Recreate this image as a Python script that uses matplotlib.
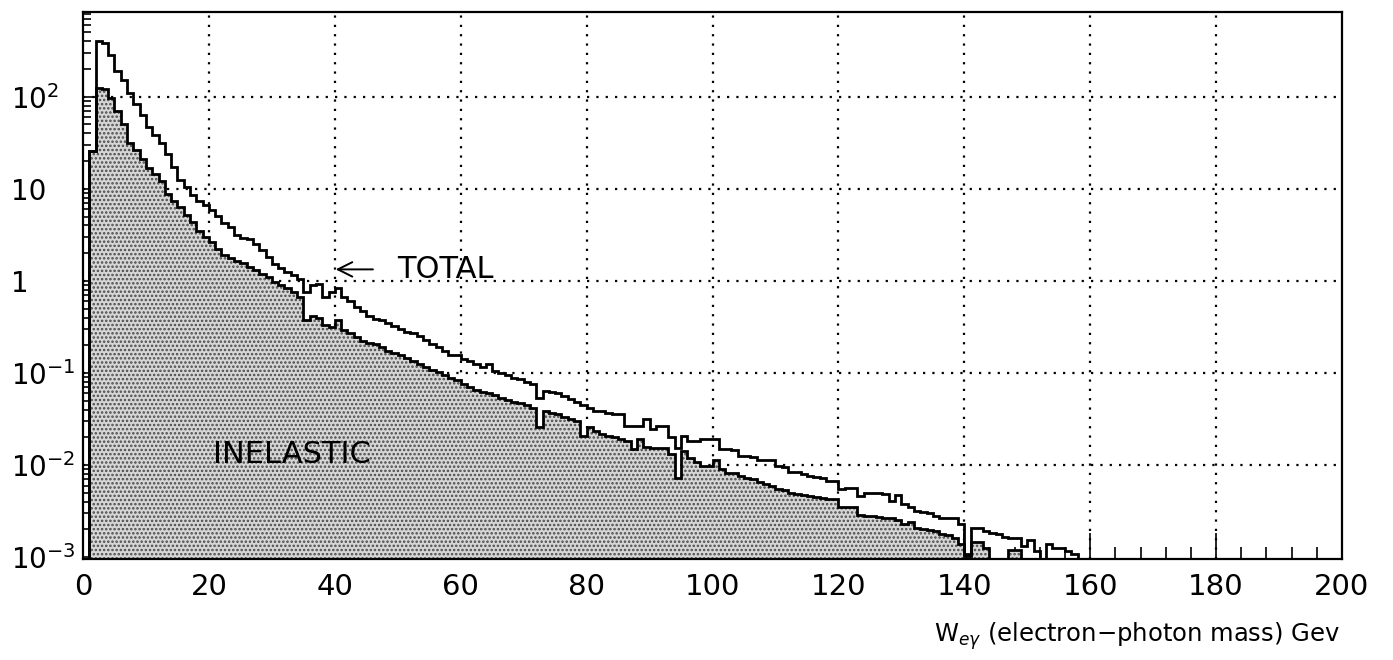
import numpy as np
import matplotlib
matplotlib.use("Agg")
import matplotlib.pyplot as plt
from matplotlib.ticker import LogLocator, MultipleLocator, NullFormatter, FixedLocator

# ---- data: 1 GeV bins from 0 to 160 (log10 of bin content)
bin_edges_gev = list(range(0, 161))
total_log10 = [
    -6, 1.41, 2.60, 2.58, 2.45, 2.28, 2.18, 2.04, 1.92, 1.80,
    1.67, 1.58, 1.50, 1.38, 1.24, 1.10, 1.02, 0.93, 0.87, 0.82,
    0.77, 0.70, 0.63, 0.58, 0.50, 0.47, 0.46, 0.40, 0.34, 0.26,
    0.18, 0.14, 0.10, 0.06, 0.02, -0.12, -0.05, -0.03, -0.18, -0.12,
    -0.08, -0.17, -0.22, -0.28, -0.33, -0.38, -0.41, -0.43, -0.46, -0.49,
    -0.52, -0.55, -0.57, -0.60, -0.64, -0.69, -0.72, -0.76, -0.80, -0.80,
    -0.85, -0.87, -0.90, -0.93, -0.90, -0.98, -1.00, -1.02, -1.05, -1.07,
    -1.10, -1.12, -1.27, -1.20, -1.21, -1.22, -1.25, -1.28, -1.32, -1.35,
    -1.38, -1.41, -1.41, -1.43, -1.44, -1.45, -1.58, -1.58, -1.58, -1.50,
    -1.61, -1.58, -1.58, -1.70, -1.81, -1.68, -1.74, -1.74, -1.72, -1.72,
    -1.72, -1.83, -1.83, -1.84, -1.90, -1.90, -1.91, -1.94, -1.94, -1.95,
    -2.01, -2.02, -2.07, -2.08, -2.10, -2.12, -2.13, -2.14, -2.17, -2.17,
    -2.26, -2.25, -2.25, -2.34, -2.30, -2.30, -2.30, -2.31, -2.39, -2.33,
    -2.42, -2.46, -2.50, -2.51, -2.52, -2.55, -2.57, -2.57, -2.57, -2.64,
    -2.97, -2.68, -2.68, -2.72, -2.74, -2.75, -2.78, -2.79, -2.79, -2.88,
    -2.81, -2.93, -6, -2.86, -2.90, -2.90, -2.93, -2.97, -6, -6,
]
inelastic_log10 = [
    -6, 1.41, 2.10, 2.08, 1.99, 1.85, 1.70, 1.50, 1.42, 1.32,
    1.23, 1.16, 1.08, 0.94, 0.87, 0.80, 0.72, 0.64, 0.54, 0.48,
    0.42, 0.35, 0.28, 0.25, 0.22, 0.19, 0.15, 0.12, 0.08, 0.04,
    -0.01, -0.05, -0.08, -0.12, -0.17, -0.42, -0.38, -0.40, -0.48, -0.50,
    -0.42, -0.53, -0.57, -0.61, -0.65, -0.67, -0.69, -0.72, -0.76, -0.78,
    -0.81, -0.84, -0.87, -0.90, -0.93, -0.97, -0.99, -1.02, -1.05, -1.08,
    -1.12, -1.15, -1.18, -1.21, -1.22, -1.24, -1.27, -1.29, -1.31, -1.33,
    -1.35, -1.38, -1.59, -1.41, -1.43, -1.45, -1.48, -1.50, -1.52, -1.68,
    -1.59, -1.63, -1.66, -1.68, -1.70, -1.72, -1.74, -1.83, -1.72, -1.80,
    -1.81, -1.81, -1.81, -1.88, -2.14, -1.85, -1.92, -1.97, -2.01, -2.01,
    -1.94, -2.04, -2.09, -2.09, -2.12, -2.14, -2.15, -2.18, -2.21, -2.23,
    -2.26, -2.27, -2.30, -2.31, -2.33, -2.34, -2.35, -2.36, -2.37, -2.37,
    -2.46, -2.45, -2.45, -2.54, -2.55, -2.55, -2.56, -2.57, -2.58, -2.60,
    -2.64, -2.62, -2.68, -2.69, -2.71, -2.72, -2.75, -2.76, -2.79, -2.86,
    -2.99, -2.84, -2.84, -2.90, -6, -6, -6, -2.92, -2.92, -6,
    -6, -6, -6, -6, -6, -6, -6, -6, -6, -6,
]
x_ticks = [0, 20, 40, 60, 80, 100, 120, 140, 160, 180, 200]
y_ticks = [1e-3, 1e-2, 1e-1, 1, 10, 100]
y_ticklabels = [r"$10^{-3}$", r"$10^{-2}$", r"$10^{-1}$", "1", "10", r"$10^{2}$"]
xlabel = "W$_{e\\gamma}$ (electron\u2212photon mass) Gev"

plt.rcParams["font.family"] = ["DejaVu Sans"]
plt.rcParams["mathtext.fontset"] = "dejavusans"
plt.rcParams["hatch.color"] = "#4a4a4a"
plt.rcParams["hatch.linewidth"] = 1.2

total = 10.0 ** np.array(total_log10)
inel = 10.0 ** np.array(inelastic_log10)
edges = np.array(bin_edges_gev, dtype=float)

W, H = 1393, 660
fig = plt.figure(figsize=(W / 100, H / 100), dpi=100)
ax = fig.add_axes([83 / W, 1 - 559 / H, (1342 - 83) / W, (559 - 12) / H])
ax.set_yscale("log")
ax.set_xlim(0, 200)
ax.set_ylim(10 ** -3.02, 10 ** 2.92)

# grid (hidden under the filled inelastic area)
ax.set_axisbelow(True)
for gx in x_ticks[1:-1]:
    ax.axvline(gx, color="k", lw=1.6, ls=(0, (1, 3.2)), zorder=0.5)
for gy in y_ticks[1:]:
    ax.axhline(gy, color="k", lw=1.6, ls=(0, (1, 3.2)), zorder=0.5)

# inelastic filled histogram
ax.stairs(inel, edges, baseline=1e-6, fill=True, facecolor="#d6d6d6",
          edgecolor="#4a4a4a", linewidth=0, hatch="....", zorder=1)
ax.stairs(inel, edges, baseline=1e-6, fill=False, color="k", lw=2.0, zorder=2)
# total histogram
ax.stairs(total, edges, baseline=1e-6, fill=False, color="k", lw=2.0, zorder=2)

# ticks
ax.xaxis.set_major_locator(FixedLocator(x_ticks))
ax.xaxis.set_minor_locator(MultipleLocator(4))
ax.set_xticklabels([str(v) for v in x_ticks])
ax.yaxis.set_major_locator(FixedLocator(y_ticks))
ax.yaxis.set_minor_locator(LogLocator(base=10, subs=np.arange(2, 10), numticks=20))
ax.yaxis.set_minor_formatter(NullFormatter())
ax.set_yticklabels(y_ticklabels)
ax.tick_params(axis="both", which="both", direction="in", top=False, right=False, width=1.2)
ax.tick_params(axis="x", which="major", length=19, pad=10, labelsize=21)
ax.tick_params(axis="x", which="minor", length=8.5)
ax.tick_params(axis="y", which="major", length=9, pad=52, labelsize=20)
ax.tick_params(axis="y", which="minor", length=6)
for lab in ax.get_yticklabels():
    lab.set_horizontalalignment("left")

for sp in ax.spines.values():
    sp.set_linewidth(1.6)

# annotations
ax.annotate("", xy=(39.7, 10 ** 0.125), xytext=(46.5, 10 ** 0.125),
            arrowprops=dict(arrowstyle="->", lw=1.4, color="k", mutation_scale=26))
ax.text(49.9, 10 ** 0.125, "TOTAL", fontsize=22, va="center", ha="left")
ax.text(20.7, 10 ** -1.886, "INELASTIC", fontsize=22, va="center", ha="left")

fig.text(1340 / W, 1 - 636 / H, xlabel, ha="right", va="center", fontsize=17.5)

fig.savefig("out.png", dpi=100)
